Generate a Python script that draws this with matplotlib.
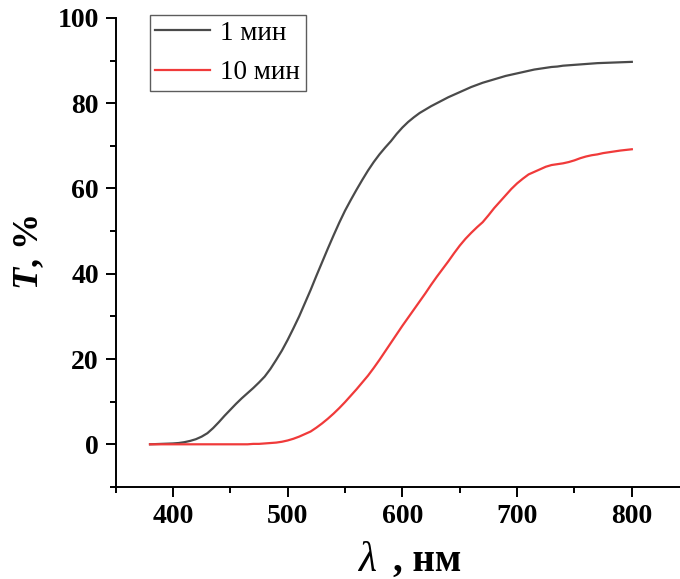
import numpy as np
import matplotlib.pyplot as plt
from matplotlib.ticker import MultipleLocator

plt.rcParams['font.family'] = ['Liberation Serif', 'DejaVu Serif']
plt.rcParams['mathtext.fontset'] = 'custom'
plt.rcParams['mathtext.bf'] = 'Liberation Serif:italic:bold'
plt.rcParams['mathtext.rm'] = 'Liberation Serif:bold'

# wavelength grid, nm
wl = np.arange(380, 801, 5)

# transmittance after 1 min
t_1min = [0.0, 0.05, 0.1, 0.15, 0.2, 0.3, 0.5, 0.8, 1.2, 1.8,
          2.6, 3.8, 5.2, 6.7, 8.1, 9.5, 10.8, 12.0, 13.2, 14.5,
          15.9, 17.7, 19.8, 22.0, 24.5, 27.2, 30.0, 33.1, 36.2, 39.5,
          42.7, 45.9, 49.0, 52.0, 54.8, 57.3, 59.7, 62.0, 64.2, 66.2,
          68.0, 69.6, 71.1, 72.8, 74.3, 75.6, 76.7, 77.7, 78.5, 79.3,
          80.0, 80.7, 81.4, 82.0, 82.6, 83.2, 83.8, 84.3, 84.8, 85.2,
          85.6, 86.0, 86.4, 86.7, 87.0, 87.3, 87.6, 87.9, 88.1, 88.3,
          88.5, 88.6, 88.8, 88.9, 89.0, 89.1, 89.2, 89.3, 89.4, 89.45,
          89.5, 89.55, 89.6, 89.65, 89.7]

# transmittance after 10 min
t_10min = [0.0, 0.0, 0.0, 0.0, 0.0, 0.0, 0.0, 0.0, 0.0, 0.0,
           0.0, 0.0, 0.0, 0.0, 0.0, 0.0, 0.0, 0.0, 0.1, 0.1,
           0.2, 0.3, 0.4, 0.6, 0.9, 1.3, 1.8, 2.4, 3.0, 3.9,
           4.9, 6.0, 7.2, 8.5, 9.9, 11.4, 12.9, 14.5, 16.1, 17.9,
           19.8, 21.8, 23.8, 25.8, 27.8, 29.7, 31.6, 33.5, 35.4, 37.4,
           39.3, 41.1, 42.9, 44.8, 46.6, 48.2, 49.6, 50.9, 52.1, 53.7,
           55.4, 56.9, 58.4, 59.9, 61.2, 62.3, 63.3, 63.9, 64.5, 65.1,
           65.5, 65.7, 65.9, 66.2, 66.6, 67.1, 67.5, 67.8, 68.0, 68.3,
           68.5, 68.7, 68.9, 69.05, 69.2]

labels = ['1 мин', '10 мин']

fig = plt.figure(figsize=(6.8, 5.79), dpi=100)
ax = fig.add_axes([0.170, 0.159, 0.830, 0.810])

ax.plot(wl, t_1min, color='#4a4a4a', lw=1.6, label=labels[0])
ax.plot(wl, t_10min, color='#f03a3a', lw=1.6, label=labels[1])

ax.set_xlim(350, 842)
ax.set_ylim(-10, 100)
ax.xaxis.set_major_locator(MultipleLocator(100))
ax.xaxis.set_minor_locator(MultipleLocator(50))
ax.yaxis.set_major_locator(MultipleLocator(20))
ax.yaxis.set_minor_locator(MultipleLocator(10))

for side in ['top', 'right']:
    ax.spines[side].set_visible(False)
for side in ['left', 'bottom']:
    ax.spines[side].set_linewidth(1.4)

ax.tick_params(which='major', direction='out', length=7, width=1.4, labelsize=20, pad=5)
ax.tick_params(which='minor', direction='out', length=4, width=1.4)
for lbl in ax.get_xticklabels() + ax.get_yticklabels():
    lbl.set_fontweight('bold')

# x label: large italic lambda followed by the unit
fig.text(0.526, 0.014, 'λ', fontsize=30, fontstyle='italic', va='baseline')
fig.text(0.578, 0.014, ', нм', fontsize=28, fontweight='bold', va='baseline')

ax.set_ylabel(r'$\mathbf{T}$, %', fontsize=26, fontweight='bold', labelpad=8)

leg = ax.legend(loc='upper left', bbox_to_anchor=(0.061, 1.006), borderaxespad=0,
                fontsize=19.5, fancybox=False, edgecolor='#333333',
                handlelength=2.0, handletextpad=0.4, borderpad=0.2,
                labelspacing=0.55)
leg.get_frame().set_linewidth(1.0)

fig.savefig('out.png', dpi=100)
